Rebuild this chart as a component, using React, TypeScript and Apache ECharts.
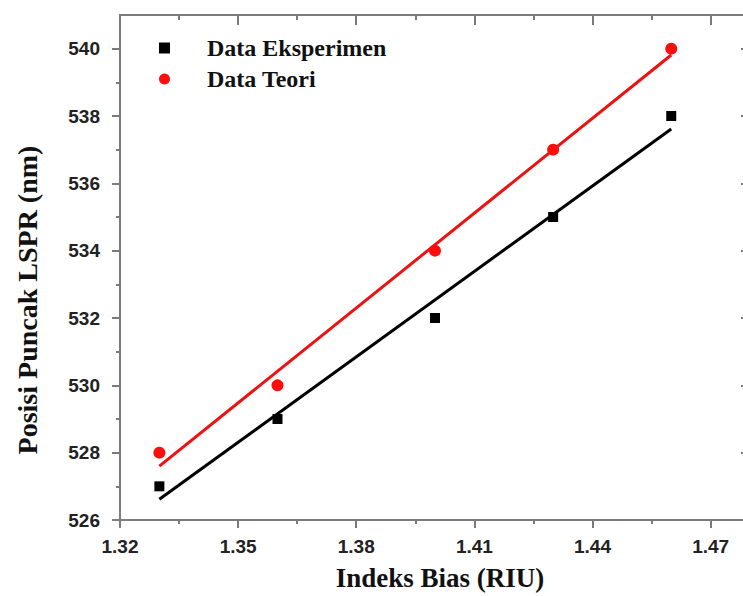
import React, { useEffect, useRef } from "react";
import * as echarts from "echarts";

// Data
const xValues = [1.33, 1.36, 1.4, 1.43, 1.46];
const expValues = [527, 529, 532, 535, 538];
const theoryValues = [528, 530, 534, 537, 540];

// Axis tick values
const xTickLabels = [1.32, 1.35, 1.38, 1.41, 1.44, 1.47];
const xMinorTicks = [1.335, 1.365, 1.395, 1.425, 1.455];
const yTickLabels = [526, 528, 530, 532, 534, 536, 538, 540];
const yMinorTicks = [527, 529, 531, 533, 535, 537, 539];

const seriesNames = ["Data Eksperimen", "Data Teori"];
const xTitle = "Indeks Bias (RIU)";
const yTitle = "Posisi Puncak LSPR (nm)";

function linearFit(xs: number[], ys: number[]) {
  const n = xs.length;
  const mx = xs.reduce((a, b) => a + b, 0) / n;
  const my = ys.reduce((a, b) => a + b, 0) / n;
  let sxy = 0;
  let sxx = 0;
  for (let i = 0; i < n; i++) {
    sxy += (xs[i] - mx) * (ys[i] - my);
    sxx += (xs[i] - mx) * (xs[i] - mx);
  }
  const slope = sxy / sxx;
  const icpt = my - slope * mx;
  const x0 = xs[0];
  const x1 = xs[n - 1];
  return [
    [x0, icpt + slope * x0],
    [x1, icpt + slope * x1],
  ];
}

const AXIS_COLOR = "#7a7a7a";
const LABEL_FONT = "'Liberation Sans', Arial, sans-serif";
const TITLE_FONT = "'Liberation Serif', 'Times New Roman', serif";

export default function App() {
  const ref = useRef<HTMLDivElement>(null);

  useEffect(() => {
    if (!ref.current) return;
    const chart = echarts.init(ref.current, undefined, { renderer: "svg" });

    const tickLine = { color: AXIS_COLOR, width: 2 };
    const baseX = {
      type: "value" as const,
      min: 1.32,
      max: 1.48,
      splitLine: { show: false },
    };
    const baseY = {
      type: "value" as const,
      min: 526,
      max: 541,
      splitLine: { show: false },
    };

    chart.setOption({
      animation: false,
      backgroundColor: "#ffffff",
      grid: { left: 120, top: 15, width: 630, height: 508, containLabel: false },
      legend: {
        orient: "vertical",
        left: 154,
        top: 31,
        itemWidth: 11,
        itemHeight: 11,
        itemGap: 7,
        data: seriesNames,
        textStyle: {
          fontFamily: TITLE_FONT,
          fontWeight: "bold",
          fontSize: 24,
          color: "#111",
          padding: [0, 0, 0, 32],
        },
      },
      graphic: [
        {
          type: "text",
          x: 27,
          y: 300,
          rotation: Math.PI / 2,
          style: {
            text: yTitle,
            fontFamily: TITLE_FONT,
            fontWeight: "bold",
            fontSize: 28,
            fill: "#111",
            align: "center",
            verticalAlign: "middle",
          },
        },
      ],
      xAxis: [
        {
          ...baseX,
          position: "bottom",
          name: xTitle,
          nameLocation: "middle",
          nameGap: 44,
          nameTextStyle: {
            fontFamily: TITLE_FONT,
            fontWeight: "bold",
            fontSize: 27,
            color: "#111",
            padding: [0, 0, 0, 10],
          },
          axisLine: { show: true, onZero: false, lineStyle: tickLine },
          axisTick: {
            show: true,
            inside: false,
            length: 8,
            customValues: xTickLabels,
            lineStyle: tickLine,
          },
          axisLabel: {
            show: true,
            customValues: xTickLabels,
            margin: 17,
            formatter: (v: number) => v.toFixed(2),
            fontFamily: LABEL_FONT,
            fontWeight: "bold",
            fontSize: 19,
            color: "#222",
          },
        },
        {
          ...baseX,
          position: "bottom",
          axisLine: { show: false, onZero: false },
          axisTick: {
            show: true,
            inside: false,
            length: 4,
            customValues: xMinorTicks,
            lineStyle: tickLine,
          },
          axisLabel: { show: false },
        },
        {
          ...baseX,
          position: "top",
          axisLine: { show: true, onZero: false, lineStyle: tickLine },
          axisTick: {
            show: true,
            inside: true,
            length: 10,
            customValues: xTickLabels,
            lineStyle: tickLine,
          },
          axisLabel: { show: false },
        },
        {
          ...baseX,
          position: "top",
          axisLine: { show: false, onZero: false },
          axisTick: {
            show: true,
            inside: true,
            length: 5,
            customValues: xMinorTicks,
            lineStyle: tickLine,
          },
          axisLabel: { show: false },
        },
      ],
      yAxis: [
        {
          ...baseY,
          position: "left",
          axisLine: { show: true, onZero: false, lineStyle: tickLine },
          axisTick: {
            show: true,
            inside: false,
            length: 8,
            customValues: yTickLabels,
            lineStyle: tickLine,
          },
          axisLabel: {
            show: true,
            customValues: yTickLabels,
            margin: 20,
            fontFamily: LABEL_FONT,
            fontWeight: "bold",
            fontSize: 19,
            color: "#222",
          },
        },
        {
          ...baseY,
          position: "left",
          axisLine: { show: false, onZero: false },
          axisTick: {
            show: true,
            inside: false,
            length: 4,
            customValues: yMinorTicks,
            lineStyle: tickLine,
          },
          axisLabel: { show: false },
        },
        {
          ...baseY,
          position: "right",
          axisLine: { show: true, onZero: false, lineStyle: tickLine },
          axisTick: {
            show: true,
            inside: true,
            length: 9,
            customValues: yTickLabels,
            lineStyle: tickLine,
          },
          axisLabel: { show: false },
        },
        {
          ...baseY,
          position: "right",
          axisLine: { show: false, onZero: false },
          axisTick: {
            show: true,
            inside: true,
            length: 5,
            customValues: yMinorTicks,
            lineStyle: tickLine,
          },
          axisLabel: { show: false },
        },
      ],
      series: [
        {
          name: seriesNames[0],
          type: "scatter",
          xAxisIndex: 0,
          yAxisIndex: 0,
          symbol: "rect",
          symbolSize: 10,
          itemStyle: { color: "#000000", opacity: 1 },
          data: xValues.map((x, i) => [x, expValues[i]]),
          z: 5,
        },
        {
          name: seriesNames[1],
          type: "scatter",
          xAxisIndex: 0,
          yAxisIndex: 0,
          symbol: "circle",
          symbolSize: 12,
          itemStyle: { color: "#ff0d0d", opacity: 1 },
          data: xValues.map((x, i) => [x, theoryValues[i]]),
          z: 5,
        },
        {
          name: "Fit Eksperimen",
          type: "line",
          xAxisIndex: 0,
          yAxisIndex: 0,
          showSymbol: false,
          symbol: "none",
          lineStyle: { color: "#000000", width: 3 },
          data: linearFit(xValues, expValues),
          z: 3,
        },
        {
          name: "Fit Teori",
          type: "line",
          xAxisIndex: 0,
          yAxisIndex: 0,
          showSymbol: false,
          symbol: "none",
          lineStyle: { color: "#ee1111", width: 3 },
          data: linearFit(xValues, theoryValues),
          z: 3,
        },
      ],
    });

    return () => chart.dispose();
  }, []);

  return (
    <div
      style={{
        position: "fixed",
        left: 0,
        top: 0,
        width: 743,
        height: 596,
        overflow: "hidden",
        background: "#fff",
      }}
    >
      <div ref={ref} style={{ width: 780, height: 596 }} />
    </div>
  );
}
